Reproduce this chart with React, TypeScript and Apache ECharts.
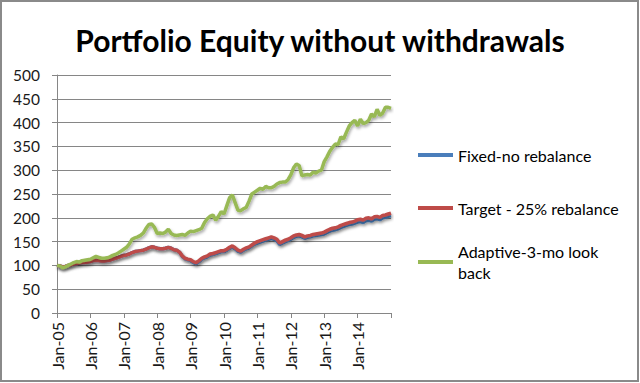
import React, { useEffect, useRef } from "react";
import * as echarts from "echarts";

const MONTHS = ["Jan", "Feb", "Mar", "Apr", "May", "Jun", "Jul", "Aug", "Sep", "Oct", "Nov", "Dec"];
const YEARS = ["05", "06", "07", "08", "09", "10", "11", "12", "13", "14", "15"];
const CATEGORIES: string[] = [];
YEARS.forEach((y) => MONTHS.forEach((m) => CATEGORIES.push(`${m}-${y}`)));
CATEGORIES.length = 121; // Jan-05 .. Jan-15

const SERIES_NAMES = ["Fixed-no rebalance", "Target - 25% rebalance", "Adaptive-3-mo look back"];

const FIXED = [
  100, 99, 97, 98, 100, 101, 103, 104, 105, 106, 106, 107,
  108, 110, 111, 110, 109, 109, 110, 111, 113, 115, 117, 119,
  121, 122, 124, 127, 129, 130, 131, 132, 134, 137, 139, 138,
  136, 135, 135, 136, 138, 136, 133, 132, 128, 119, 114, 112,
  110, 106, 104, 108, 113, 116, 118, 122, 123, 125, 127, 129,
  129, 132, 136, 139, 135, 130, 128, 132, 135, 137, 141, 145,
  147, 149, 151, 153, 155, 157, 155, 152, 144, 147, 150, 152,
  155, 159, 161, 162, 160, 157, 159, 160, 162, 163, 164, 165,
  166, 169, 172, 174, 175, 177, 180, 182, 184, 186, 187, 189,
  191, 192, 190, 194, 195, 193, 197, 198, 196, 200, 201, 203, 204,
];

const TARGET = [
  100, 99, 97, 98, 100, 101, 103, 104, 105, 106, 106, 107,
  108, 110, 111, 110, 109, 109, 110, 111, 113, 115, 117, 119,
  121, 122, 124, 127, 129, 130, 131, 132, 134, 137, 139, 138,
  136, 135, 135, 136, 138, 136, 133, 132, 128, 120, 115, 113,
  112, 108, 106, 110, 115, 118, 120, 124, 125, 127, 129, 131,
  131, 134, 138, 141, 137, 132, 130, 134, 137, 139, 143, 147,
  150, 152, 154, 156, 158, 160, 158, 155, 147, 150, 153, 155,
  158, 162, 164, 165, 163, 160, 162, 163, 165, 166, 167, 168,
  170, 173, 176, 178, 179, 181, 184, 186, 188, 190, 191, 193,
  196, 197, 195, 199, 200, 198, 202, 203, 201, 205, 206, 208, 210,
];

const ADAPTIVE = [
  100, 99, 95, 97, 100, 103, 106, 108, 107, 110, 111, 112,
  113, 116, 119, 117, 115, 115, 116, 118, 121, 123, 126, 130,
  134, 138, 145, 155, 158, 160, 163, 168, 178, 186, 187, 180,
  167, 168, 167, 170, 176, 167, 164, 163, 164, 165, 163, 168,
  172, 171, 173, 175, 178, 190, 198, 203, 206, 195, 203, 213,
  208, 225, 242, 248, 232, 216, 215, 219, 222, 235, 250, 254,
  258, 262, 260, 266, 263, 263, 266, 271, 274, 275, 275, 280,
  290, 305, 313, 310, 288, 290, 291, 290, 296, 294, 298, 300,
  318, 328, 340, 348, 355, 354, 370, 366, 380, 393, 400, 405,
  393, 407, 398, 400, 405, 418, 412, 428, 415, 420, 432, 432, 430,
];

const Y_MIN = 0;
const Y_MAX = 500;
const Y_STEP = 50;

const COLORS = ["#4A7EBB", "#BE4B48", "#98B954"];
const FONT = "Lato, 'Open Sans', sans-serif";

export default function App() {
  const ref = useRef<HTMLDivElement>(null);

  useEffect(() => {
    document.body.style.margin = "0";
    if (!ref.current) return;
    const chart = echarts.init(ref.current, undefined, { renderer: "svg" });

    const shadow = {
      shadowColor: "rgba(0,0,0,0.35)",
      shadowBlur: 3,
      shadowOffsetX: 1,
      shadowOffsetY: 2,
    };

    const legendBase = {
      orient: "vertical" as const,
      left: 418,
      padding: 0,
      icon: "rect",
      itemWidth: 35,
      itemHeight: 4,
      selectedMode: false,
      textStyle: { fontFamily: FONT, fontSize: 16, color: "#000", lineHeight: 21 },
    };

    chart.setOption({
      animation: false,
      backgroundColor: "#ffffff",
      color: COLORS,
      title: {
        text: "Portfolio Equity without withdrawals",
        left: "center",
        top: 20,
        textStyle: { fontFamily: FONT, fontSize: 30, fontWeight: "bold", color: "#000" },
      },
      legend: [
        { ...legendBase, top: 144.5, data: [SERIES_NAMES[0]] },
        { ...legendBase, top: 197.5, data: [SERIES_NAMES[1]] },
        {
          ...legendBase,
          top: 230.5,
          data: [SERIES_NAMES[2]],
          formatter: () => "Adaptive-3-mo look\nback",
          textStyle: { ...legendBase.textStyle, padding: [21, 0, 0, 0] },
        },
      ],
      grid: { left: 57, right: 249, top: 75, bottom: 70, containLabel: false, outerBoundsMode: "none" },
      xAxis: {
        type: "category",
        data: CATEGORIES,
        boundaryGap: false,
        axisLine: { show: true, lineStyle: { color: "#868686", width: 1 } },
        axisTick: {
          show: true,
          length: 5,
          interval: (i: number) => i % 12 === 0,
          lineStyle: { color: "#868686" },
        },
        axisLabel: {
          rotate: 90,
          margin: 9,
          interval: (i: number) => i % 12 === 0 && i < 120,
          fontFamily: FONT,
          fontSize: 16,
          color: "#1a1a1a",
        },
        splitLine: { show: false },
      },
      yAxis: {
        type: "value",
        min: Y_MIN,
        max: Y_MAX,
        interval: Y_STEP,
        axisLine: { show: true, lineStyle: { color: "#868686", width: 1 } },
        axisTick: { show: true, length: 5, lineStyle: { color: "#868686" } },
        axisLabel: { margin: 17, fontFamily: FONT, fontSize: 15.5, color: "#1a1a1a" },
        splitLine: { show: true, lineStyle: { color: "#868686", width: 1 } },
      },
      series: [
        { name: SERIES_NAMES[0], type: "line", data: FIXED, symbol: "none", lineStyle: { width: 3.5, color: COLORS[0], ...shadow } },
        { name: SERIES_NAMES[1], type: "line", data: TARGET, symbol: "none", lineStyle: { width: 3.5, color: COLORS[1], ...shadow } },
        { name: SERIES_NAMES[2], type: "line", data: ADAPTIVE, symbol: "none", lineStyle: { width: 3.5, color: COLORS[2], ...shadow } },
      ],
      graphic: [
        {
          type: "rect",
          shape: { x: 1, y: 1, width: 637, height: 380 },
          style: { fill: "none", stroke: "#8a8a8a", lineWidth: 2 },
          silent: true,
        },
      ],
    });

    return () => chart.dispose();
  }, []);

  return (
    <div
      ref={ref}
      style={{ position: "fixed", left: 0, top: 0, width: 640, height: 383 }}
    />
  );
}
